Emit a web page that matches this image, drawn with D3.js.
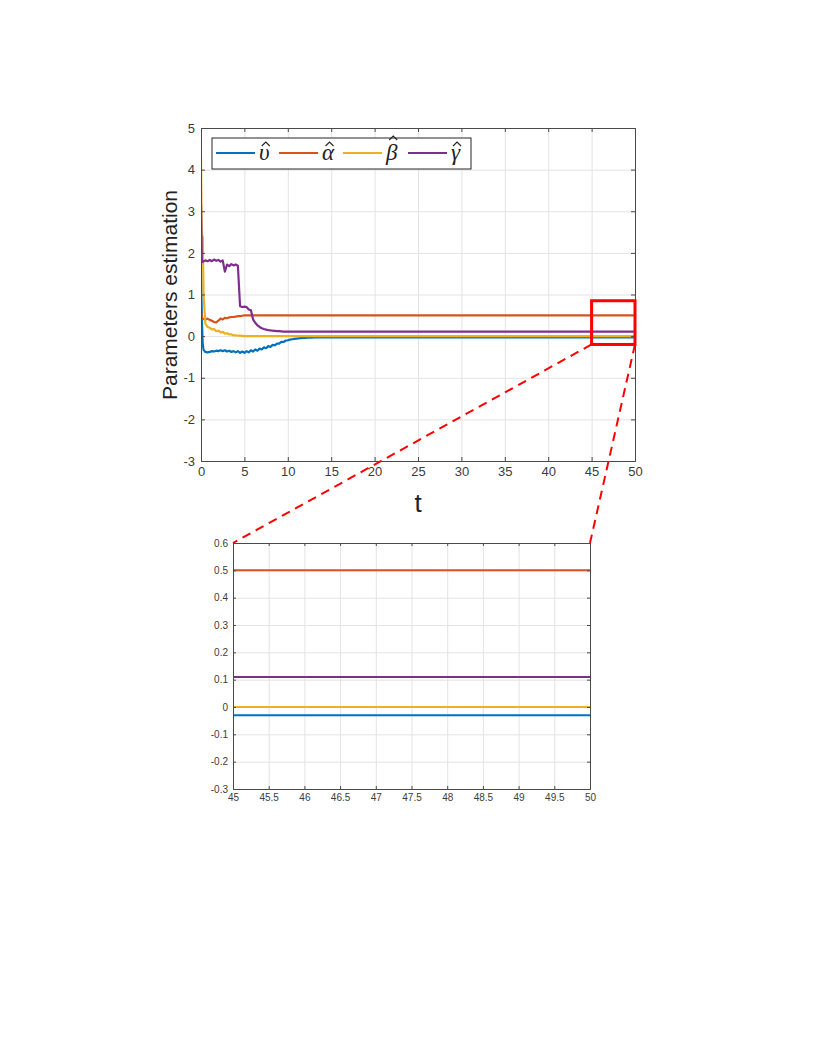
<!DOCTYPE html>
<html>
<head>
<meta charset="utf-8">
<script src="https://cdn.jsdelivr.net/npm/d3@7"></script>
<style>
  body { margin: 0; background: #fff; }
  svg text { font-family: "Liberation Sans", Arial, sans-serif; }
</style>
</head>
<body>
<svg id="chart" width="817" height="1058"></svg>
<script>
// time samples (shared by all series)
const tValues = [0, 0.1, 0.2, 0.3, 0.5, 0.75, 1, 1.25, 1.5, 1.75, 2, 2.25, 2.5, 2.75, 3, 3.25, 3.5, 3.75,
  4, 4.25, 4.5, 4.75, 5, 5.25, 5.5, 5.75, 6, 6.25, 6.5, 6.75, 7, 7.25, 7.5, 7.75, 8, 8.25, 8.5, 8.75,
  9, 9.25, 9.5, 9.75, 10, 10.25, 10.5, 10.75, 11, 11.25, 11.5, 11.75, 12, 12.25, 12.5, 12.75, 13, 13.25,
  13.5, 13.75, 14, 14.25, 14.5, 14.75, 15, 45, 50];

const upsilonHat = [1.7, 0.4, -0.2, -0.33, -0.38, -0.39, -0.38, -0.36, -0.37, -0.35, -0.36, -0.34, -0.36, -0.34,
  -0.37, -0.35, -0.38, -0.36, -0.39, -0.36, -0.4, -0.37, -0.4, -0.36, -0.39, -0.34, -0.37, -0.32, -0.35, -0.3,
  -0.32, -0.27, -0.29, -0.24, -0.26, -0.21, -0.22, -0.18, -0.18, -0.14, -0.14, -0.11, -0.1, -0.085, -0.075,
  -0.065, -0.058, -0.052, -0.047, -0.043, -0.04, -0.038, -0.036, -0.034, -0.033, -0.032, -0.031, -0.03,
  -0.03, -0.03, -0.03, -0.03, -0.03, -0.03, -0.03];

const alphaHat = [0.6, 0.45, 0.42, 0.41, 0.4, 0.42, 0.39, 0.37, 0.34, 0.33, 0.37, 0.42, 0.4, 0.44, 0.43, 0.45,
  0.46, 0.46, 0.47, 0.48, 0.48, 0.49, 0.5, 0.5, 0.5, 0.5, 0.5, 0.5, 0.5, 0.5, 0.5, 0.5, 0.5, 0.5, 0.5, 0.5,
  0.5, 0.5, 0.5, 0.5, 0.5, 0.5, 0.5, 0.5, 0.5, 0.5, 0.5, 0.5, 0.5, 0.5, 0.5, 0.5, 0.5, 0.5, 0.5, 0.5, 0.5,
  0.5, 0.5, 0.5, 0.5, 0.5, 0.5, 0.5, 0.5];

const betaHat = [4.3, 1.9, 2.4, 1.0, 0.3, 0.22, 0.2, 0.16, 0.17, 0.12, 0.13, 0.09, 0.1, 0.06, 0.07, 0.04,
  0.04, 0.02, 0.02, 0.01, 0.01, 0.005, 0, 0, 0, 0, 0, 0, 0, 0, 0, 0, 0, 0, 0, 0, 0, 0, 0, 0, 0, 0, 0, 0, 0,
  0, 0, 0, 0, 0, 0, 0, 0, 0, 0, 0, 0, 0, 0, 0, 0, 0, 0, 0, 0];

const gammaHat = [3.15, 1.8, 1.78, 1.8, 1.82, 1.8, 1.83, 1.8, 1.84, 1.81, 1.83, 1.79, 1.82, 1.55, 1.72, 1.68,
  1.73, 1.7, 1.72, 1.69, 0.72, 0.7, 0.71, 0.7, 0.64, 0.62, 0.4, 0.32, 0.26, 0.22, 0.19, 0.17, 0.155, 0.145,
  0.14, 0.13, 0.125, 0.12, 0.12, 0.115, 0.11, 0.11, 0.11, 0.11, 0.11, 0.11, 0.11, 0.11, 0.11, 0.11, 0.11,
  0.11, 0.11, 0.11, 0.11, 0.11, 0.11, 0.11, 0.11, 0.11, 0.11, 0.11, 0.11, 0.11, 0.11];

const seriesNames = ["\u03C5", "\u03B1", "\u03B2", "\u03B3"]; // each shown with a hat
const seriesColors = ["#0072BD", "#D95319", "#EDB120", "#7E2F8E"];
const seriesValues = [upsilonHat, alphaHat, betaHat, gammaHat];

const mainXTicks = [0, 5, 10, 15, 20, 25, 30, 35, 40, 45, 50];
const mainYTicks = [-3, -2, -1, 0, 1, 2, 3, 4, 5];
const zoomXTicks = [45, 45.5, 46, 46.5, 47, 47.5, 48, 48.5, 49, 49.5, 50];
const zoomYTicks = [-0.3, -0.2, -0.1, 0, 0.1, 0.2, 0.3, 0.4, 0.5, 0.6];
const zoomWindowY = [-0.2, 0.85]; // red box drawn on the main plot

const svg = d3.select("#chart");

const series = seriesValues.map((vals, i) => ({
  name: seriesNames[i],
  color: seriesColors[i],
  points: tValues.map((t, k) => ({ t: t, v: vals[k] }))
}));

function drawPanel(cfg) {
  const g = svg.append("g").attr("transform", `translate(${cfg.left},${cfg.top})`);
  const w = cfg.width, h = cfg.height;
  const x = d3.scaleLinear().domain(cfg.xDomain).range([0, w]);
  const y = d3.scaleLinear().domain(cfg.yDomain).range([h, 0]);

  // grid
  g.append("g").attr("transform", `translate(0,${h})`)
    .call(d3.axisBottom(x).tickValues(cfg.xTicks).tickSize(-h).tickFormat(""))
    .call(a => a.select(".domain").remove())
    .call(a => a.selectAll("line").attr("stroke", "#e3e3e3"));
  g.append("g")
    .call(d3.axisLeft(y).tickValues(cfg.yTicks).tickSize(-w).tickFormat(""))
    .call(a => a.select(".domain").remove())
    .call(a => a.selectAll("line").attr("stroke", "#e3e3e3"));

  // lines
  const clipId = "clip" + cfg.id;
  g.append("clipPath").attr("id", clipId).append("rect").attr("width", w).attr("height", h);
  const line = d3.line().x(d => x(d.t)).y(d => y(d.v));
  g.append("g").attr("clip-path", `url(#${clipId})`)
    .selectAll("path").data(series).enter().append("path")
    .attr("d", d => line(d.points))
    .attr("fill", "none")
    .attr("stroke", d => d.color)
    .attr("stroke-width", cfg.lineWidth)
    .attr("stroke-linejoin", "round");

  // axes (ticks pointing inward, box on)
  const axisColor = "#4a4a4a";
  const fmt = d => String(d);
  const bottom = g.append("g").attr("transform", `translate(0,${h})`)
    .call(d3.axisBottom(x).tickValues(cfg.xTicks).tickSize(-cfg.tick).tickPadding(cfg.pad).tickFormat(fmt));
  const left = g.append("g")
    .call(d3.axisLeft(y).tickValues(cfg.yTicks).tickSize(-cfg.tick).tickPadding(cfg.pad).tickFormat(fmt));
  const top = g.append("g")
    .call(d3.axisTop(x).tickValues(cfg.xTicks).tickSize(-cfg.tick).tickFormat(""));
  const right = g.append("g").attr("transform", `translate(${w},0)`)
    .call(d3.axisRight(y).tickValues(cfg.yTicks).tickSize(-cfg.tick).tickFormat(""));
  [bottom, left, top, right].forEach(a => {
    a.select(".domain").attr("stroke", axisColor);
    a.selectAll("line").attr("stroke", axisColor);
    a.selectAll("text").attr("fill", "#3c3c3c").style("font-size", cfg.fontSize + "px");
  });
  return { g, x, y };
}

// main plot
const main = drawPanel({
  id: "main", left: 201, top: 128, width: 434, height: 333,
  xDomain: [0, 50], yDomain: [-3, 5], xTicks: mainXTicks, yTicks: mainYTicks,
  tick: 4, pad: 6, fontSize: 13, lineWidth: 2.2
});

// axis titles
svg.append("text")
  .attr("transform", "translate(177,295) rotate(-90)")
  .attr("text-anchor", "middle")
  .style("font-size", "21px").attr("fill", "#222")
  .text("Parameters estimation");
svg.append("text")
  .attr("x", 418).attr("y", 512)
  .attr("text-anchor", "middle")
  .style("font-size", "26px").attr("fill", "#222")
  .text("t");

// legend
const legend = main.g.append("g").attr("transform", "translate(11,10)");
legend.append("rect").attr("width", 259).attr("height", 31)
  .attr("fill", "#fff").attr("stroke", "#262626").attr("stroke-width", 1);
const legendX = [4, 67, 131, 196];
series.forEach((s, i) => {
  const item = legend.append("g").attr("transform", `translate(${legendX[i]},15)`);
  item.append("line").attr("x1", 0).attr("x2", 39).attr("y1", 0).attr("y2", 0)
    .attr("stroke", s.color).attr("stroke-width", 2.2);
  const label = item.append("text").attr("x", 43).attr("y", 7)
    .style("font-family", "'Liberation Serif', 'DejaVu Serif', serif").style("font-style", "italic")
    .style("font-size", "23px").attr("fill", "#222")
    .text(s.name);
  const len = label.node().getComputedTextLength();
  const cx = 43 + len / 2 + 1.5;
  const hy = s.name === "\u03B2" ? -13 : -7;
  item.append("path")
    .attr("d", `M${cx - 4},${hy} L${cx},${hy - 4} L${cx + 4},${hy}`)
    .attr("fill", "none").attr("stroke", "#222").attr("stroke-width", 1.1);
});

// zoom window on main plot
const zx0 = 201 + main.x(45), zx1 = 201 + main.x(50);
const zy0 = 128 + main.y(zoomWindowY[1]), zy1 = 128 + main.y(zoomWindowY[0]);

// zoomed panel
drawPanel({
  id: "zoom", left: 233, top: 543, width: 357, height: 246,
  xDomain: [45, 50], yDomain: [-0.3, 0.6], xTicks: zoomXTicks, yTicks: zoomYTicks,
  tick: 3, pad: 5, fontSize: 10, lineWidth: 2
});

svg.append("rect")
  .attr("x", zx0).attr("y", zy0).attr("width", zx1 - zx0).attr("height", zy1 - zy0)
  .attr("fill", "none").attr("stroke", "#ff0000").attr("stroke-width", 3);

svg.append("line").attr("x1", zx0).attr("y1", zy1).attr("x2", 233).attr("y2", 543)
  .attr("stroke", "#ff0000").attr("stroke-width", 2).attr("stroke-dasharray", "9,6");
svg.append("line").attr("x1", zx1).attr("y1", zy1).attr("x2", 590).attr("y2", 543)
  .attr("stroke", "#ff0000").attr("stroke-width", 2).attr("stroke-dasharray", "9,6");
</script>
</body>
</html>
